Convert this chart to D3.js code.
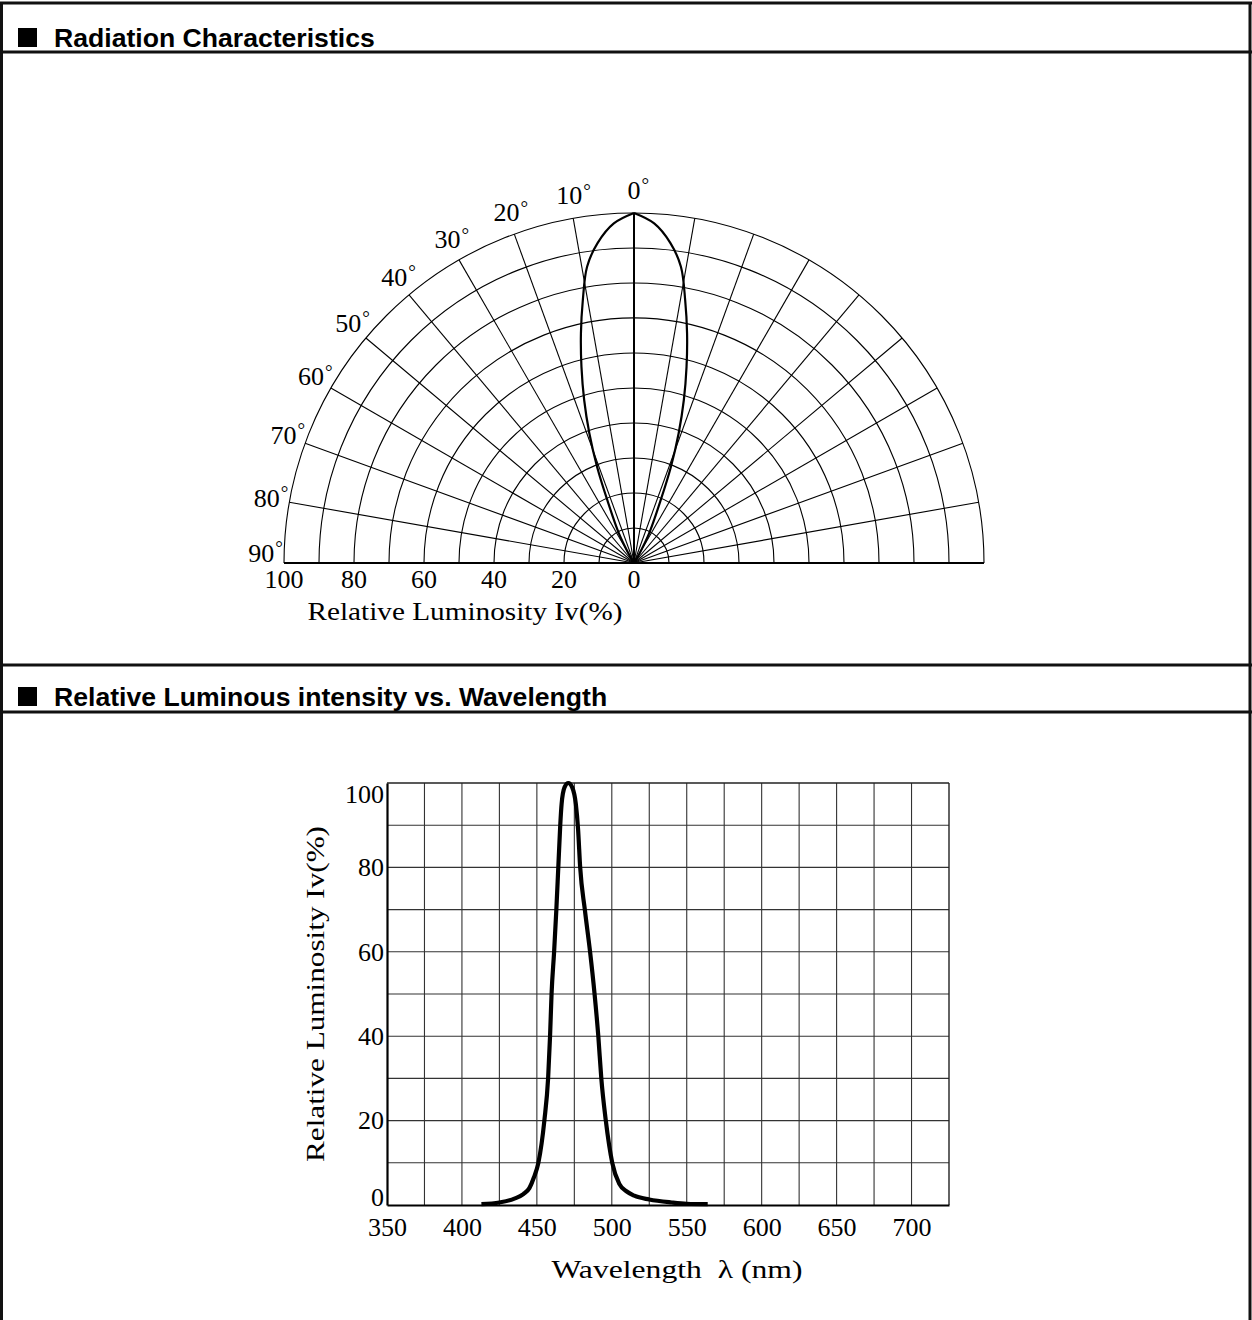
<!DOCTYPE html>
<html><head><meta charset="utf-8">
<script src="https://cdn.jsdelivr.net/npm/d3@7"></script>
<style>body{margin:0;background:#fff} svg{display:block}</style>
</head><body>
<svg id="c" width="1252" height="1320"></svg>
<script>
// ---------- data ----------
const sectionTitles = ["Radiation Characteristics", "Relative Luminous intensity vs. Wavelength"];
const polarRings = [10, 20, 30, 40, 50, 60, 70, 80, 90, 100];
const polarSpokes = [-80, -70, -60, -50, -40, -30, -20, -10, 10, 20, 30, 40, 50, 60, 70, 80];
const polarTickValues = [100, 80, 60, 40, 20, 0];
const angleLabels = [0, 10, 20, 30, 40, 50, 60, 70, 80, 90];
const lobeAngles = [0, 3.4, 6.5, 9, 11, 13, 15, 17, 19, 21, 23, 27, 30, 32];
const lobeValues = [100, 97.2, 92, 85.7, 76.6, 67.4, 58, 48.7, 39.2, 29.4, 19.5, 9.5, 3, 0];
const wavelengths = [413, 425, 435, 441, 445, 448, 451, 455, 457.5, 458.8, 459.8, 461.5, 463, 464.3, 465.6, 466.5, 468.5, 471, 473.5, 476, 477.5, 478.9, 482, 485.5, 488.5, 491, 493, 496, 500.3, 505, 510, 515, 525, 540, 550, 564];
const intensities = [0.2, 0.6, 1.5, 2.6, 4, 6.5, 10, 20, 30, 40, 50, 60, 70, 80, 90, 95, 99, 100, 99, 95, 89, 80, 70, 60, 50, 40, 30, 20, 10, 5, 3.2, 2.2, 1.3, 0.6, 0.3, 0.2];
const xTickValues = [350, 400, 450, 500, 550, 600, 650, 700];
const yTickValues = [0, 20, 40, 60, 80, 100];
const polarAxisTitle = "Relative Luminosity Iv(%)";
const xAxisTitle = "Wavelength\u00a0\u00a0\u03bb (nm)";
const yAxisTitle = "Relative Luminosity Iv(%)";

// ---------- page frame ----------
const svg = d3.select("#c");
const W = 1252, H = 1320;
const serif = "'Liberation Serif', 'Times New Roman', serif";
const sans = "'Liberation Sans', Arial, sans-serif";

const frame = svg.append("g").attr("stroke", "#111").attr("stroke-width", 3);
frame.append("line").attr("x1", 1.5).attr("x2", 1.5).attr("y1", 2).attr("y2", H);
frame.append("line").attr("x1", 1250).attr("x2", 1250).attr("y1", 2).attr("y2", H);
[3, 52, 665, 712].forEach(y => frame.append("line").attr("x1", 0).attr("x2", W).attr("y1", y).attr("y2", y));

const headerY = [47, 706];
sectionTitles.forEach((t, i) => {
  svg.append("rect").attr("x", 18).attr("y", headerY[i] - 19).attr("width", 19).attr("height", 19).attr("fill", "#000");
  svg.append("text").attr("x", 54).attr("y", headerY[i]).attr("font-family", sans).attr("font-weight", "bold")
    .attr("font-size", 26.6).attr("fill", "#000").text(t);
});

// ---------- polar chart ----------
const cx = 634, cy = 563, R = 350;
const rScale = d3.scaleLinear().domain([0, 100]).range([0, R]);
const aScale = d3.scaleLinear().domain([-90, 90]).range([-Math.PI / 2, Math.PI / 2]);
const gp = svg.append("g").attr("transform", `translate(${cx},${cy})`);

gp.selectAll("path.ring").data(polarRings).join("path").attr("class", "ring")
  .attr("d", v => { const p = d3.path(); const r = rScale(v); p.moveTo(-r, 0); p.arc(0, 0, r, Math.PI, 2 * Math.PI); return p.toString(); })
  .attr("fill", "none").attr("stroke", "#000").attr("stroke-width", 1.1);

gp.selectAll("line.spoke").data(polarSpokes).join("line").attr("class", "spoke")
  .attr("x1", 0).attr("y1", 0)
  .attr("x2", d => d3.pointRadial(aScale(d), rScale(100))[0])
  .attr("y2", d => d3.pointRadial(aScale(d), rScale(100))[1])
  .attr("stroke", "#000").attr("stroke-width", 1.1);

gp.append("line").attr("x1", 0).attr("y1", 0).attr("x2", 0).attr("y2", -rScale(100)).attr("stroke", "#000").attr("stroke-width", 2);
gp.append("line").attr("x1", -rScale(100)).attr("x2", rScale(100)).attr("y1", 0).attr("y2", 0).attr("stroke", "#000").attr("stroke-width", 2.2);

const lobe = d3.lineRadial().angle(d => aScale(d[0])).radius(d => rScale(d[1])).curve(d3.curveCatmullRom.alpha(0.5));
const rightHalf = lobeAngles.map((a, i) => [a, lobeValues[i]]);
const leftHalf = lobeAngles.map((a, i) => [-a, lobeValues[i]]);
[rightHalf, leftHalf].forEach(h => gp.append("path").attr("d", lobe(h)).attr("fill", "none").attr("stroke", "#000").attr("stroke-width", 2.2));

// radial value ticks along baseline
gp.selectAll("text.rt").data(polarTickValues).join("text").attr("class", "rt")
  .attr("x", d => -rScale(d)).attr("y", 25).attr("text-anchor", "middle")
  .attr("font-family", serif).attr("font-size", 26).attr("fill", "#000").text(d => d);

// angle labels
angleLabels.forEach(a => {
  const ang = aScale(-Math.min(a, 88.5));
  const [px, py] = d3.pointRadial(ang, 373);
  const t = gp.append("text").attr("x", px).attr("y", py + 8.5).attr("text-anchor", "middle")
    .attr("font-family", serif).attr("font-size", 26).attr("fill", "#000").text(a);
  const w = t.node().getComputedTextLength();
  gp.append("text").attr("x", px + w / 2 + 1).attr("y", py + 1).attr("font-family", serif)
    .attr("font-size", 19).attr("fill", "#000").text("\u00b0");
});

gp.append("text").attr("x", 465 - cx).attr("y", 620 - cy).attr("text-anchor", "middle")
  .attr("font-family", serif).attr("font-size", 25).attr("fill", "#000")
  .attr("textLength", 315).attr("lengthAdjust", "spacingAndGlyphs").text(polarAxisTitle);

// ---------- spectrum chart ----------
const x = d3.scaleLinear().domain([350, 725]).range([387, 949]);
const y = d3.scaleLinear().domain([0, 100]).range([1205, 783]);
const gs = svg.append("g");

gs.selectAll("line.vg").data(d3.range(375, 725, 25)).join("line").attr("class", "vg")
  .attr("x1", d => x(d)).attr("x2", d => x(d)).attr("y1", y(0)).attr("y2", y(100))
  .attr("stroke", "#333").attr("stroke-width", 1.1);
gs.selectAll("line.hg").data(d3.range(10, 100, 10)).join("line").attr("class", "hg")
  .attr("x1", x(350)).attr("x2", x(725)).attr("y1", d => y(d)).attr("y2", d => y(d))
  .attr("stroke", "#333").attr("stroke-width", 1.1);
gs.append("line").attr("x1", x(350)).attr("x2", x(725)).attr("y1", y(100)).attr("y2", y(100)).attr("stroke", "#222").attr("stroke-width", 1.4);
gs.append("line").attr("x1", x(725)).attr("x2", x(725)).attr("y1", y(0)).attr("y2", y(100)).attr("stroke", "#222").attr("stroke-width", 1.4);

const xAxis = gs.append("g").attr("transform", `translate(0,${y(0)})`)
  .call(d3.axisBottom(x).tickValues(xTickValues).tickSize(0).tickPadding(13));
const yAxis = gs.append("g").attr("transform", `translate(${x(350)},0)`)
  .call(d3.axisLeft(y).tickValues(yTickValues).tickSize(0).tickPadding(3));
[xAxis, yAxis].forEach(g => {
  g.select(".domain").attr("stroke", "#000").attr("stroke-width", 2.2);
  g.selectAll("text").attr("font-family", serif).attr("font-size", 26).attr("fill", "#000");
});
yAxis.selectAll(".tick text").attr("dy", d => d === 100 ? "0.74em" : d === 0 ? "0em" : "0.32em");

gs.append("path").datum(wavelengths.map((w, i) => [w, intensities[i]]))
  .attr("d", d3.line().x(d => x(d[0])).y(d => y(d[1])).curve(d3.curveMonotoneX))
  .attr("fill", "none").attr("stroke", "#000").attr("stroke-width", 4.2).attr("stroke-linejoin", "round");

gs.append("text").attr("x", 677).attr("y", 1278).attr("text-anchor", "middle")
  .attr("font-family", serif).attr("font-size", 26).attr("fill", "#000")
  .attr("textLength", 251).attr("lengthAdjust", "spacingAndGlyphs").text(xAxisTitle);
gs.append("text").attr("transform", `translate(324,994) rotate(-90)`).attr("text-anchor", "middle")
  .attr("font-family", serif).attr("font-size", 26).attr("fill", "#000")
  .attr("textLength", 336).attr("lengthAdjust", "spacingAndGlyphs").text(yAxisTitle);
</script>
</body></html>
